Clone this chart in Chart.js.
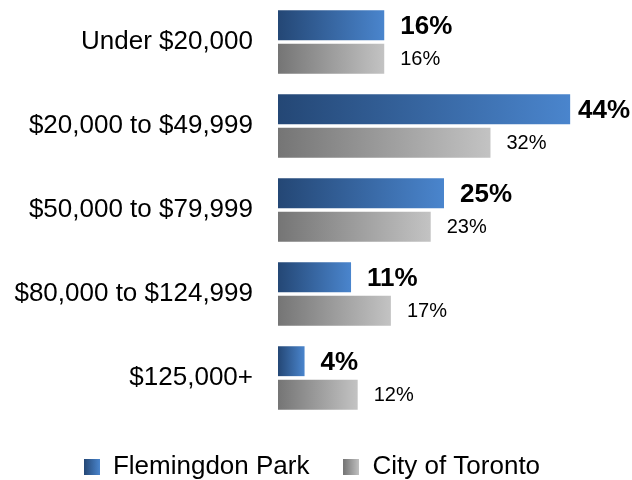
<!DOCTYPE html>
<html>
<head>
<meta charset="utf-8">
<script src="https://cdn.jsdelivr.net/npm/chart.js@4/dist/chart.umd.min.js"></script>
<style>
  html, body { margin: 0; padding: 0; background: #fff; }
  #wrap { width: 632px; height: 480px; }
</style>
</head>
<body>
<div id="wrap"><canvas id="income-chart"></canvas></div>
<script>
Chart.defaults.font.family = "'Liberation Sans', Arial, sans-serif";
Chart.defaults.color = '#000';

const incomeLabels = [
  'Under $20,000',
  '$20,000 to $49,999',
  '$50,000 to $79,999',
  '$80,000 to $124,999',
  '$125,000+'
];
const flemingdonValues = [16, 44, 25, 11, 4];
const torontoValues = [16, 32, 23, 17, 12];
const seriesNames = ['Flemingdon Park', 'City of Toronto'];

const blueStops = ['#244775', '#4a85cd'];
const grayStops = ['#757575', '#c3c3c3'];

// left -> right gradient along each bar
const barGradient = (stops) => (ctx) => {
  const chart = ctx.chart;
  const xScale = chart.scales.x;
  if (ctx.type !== 'data' || !xScale) return stops[1];
  const x0 = xScale.getPixelForValue(0);
  const x1 = xScale.getPixelForValue(ctx.raw);
  if (!isFinite(x0) || !isFinite(x1) || x1 - x0 < 1) return stops[0];
  const g = chart.ctx.createLinearGradient(x0, 0, x1, 0);
  g.addColorStop(0, stops[0]);
  g.addColorStop(1, stops[1]);
  return g;
};

// small gradient square used as legend marker
function legendSwatch(stops) {
  const c = document.createElement('canvas');
  c.width = 16;
  c.height = 16;
  const cx = c.getContext('2d');
  const g = cx.createLinearGradient(0, 0, 16, 0);
  g.addColorStop(0, stops[0]);
  g.addColorStop(1, stops[1]);
  cx.fillStyle = g;
  cx.fillRect(0, 0, 16, 16);
  return c;
}

// value labels at the end of each bar
const valueLabels = {
  id: 'valueLabels',
  afterDatasetsDraw(chart) {
    const ctx = chart.ctx;
    ctx.save();
    ctx.textBaseline = 'middle';
    ctx.textAlign = 'left';
    chart.data.datasets.forEach((ds, di) => {
      const meta = chart.getDatasetMeta(di);
      ctx.font = di === 0
        ? "bold 26px 'Liberation Sans', Arial, sans-serif"
        : "20px 'Liberation Sans', Arial, sans-serif";
      ctx.fillStyle = '#000';
      meta.data.forEach((bar, i) => {
        const txt = ds.data[i] + '%';
        const w = ctx.measureText(txt).width;
        const x = Math.min(bar.x + 16, chart.width - w - 2);
        ctx.fillText(txt, x, bar.y + (di === 0 ? 2 : 1));
      });
    });
    ctx.restore();
  }
};

const swatches = [legendSwatch(blueStops), legendSwatch(grayStops)];

const ctx = document.getElementById('income-chart').getContext('2d');
new Chart(ctx, {
  type: 'bar',
  data: {
    labels: incomeLabels,
    datasets: [
      {
        label: seriesNames[0],
        data: flemingdonValues,
        backgroundColor: barGradient(blueStops),
        categoryPercentage: 0.8,
        barPercentage: 0.89
      },
      {
        label: seriesNames[1],
        data: torontoValues,
        backgroundColor: barGradient(grayStops),
        categoryPercentage: 0.8,
        barPercentage: 0.89
      }
    ]
  },
  options: {
    indexAxis: 'y',
    responsive: true,
    maintainAspectRatio: false,
    animation: false,
    layout: { padding: { left: 14, right: 22, top: 0, bottom: -10 } },
    scales: {
      x: {
        display: false,
        min: 0,
        max: 50
      },
      y: {
        grid: { display: false, drawTicks: false },
        border: { display: false },
        ticks: {
          padding: 25,
          font: { size: 26 },
          color: '#000'
        },
        afterFit(scale) {
          scale.width = 264;
          scale.paddingTop = 0;
          scale.paddingBottom = 0;
        }
      }
    },
    plugins: {
      tooltip: { enabled: false },
      legend: {
        position: 'bottom',
        labels: {
          font: { size: 26 },
          color: '#000',
          usePointStyle: true,
          boxWidth: 16,
          boxHeight: 16,
          padding: 34,
          generateLabels(chart) {
            return chart.data.datasets.map((ds, i) => ({
              text: ds.label,
              pointStyle: swatches[i],
              fillStyle: blueStops[0],
              strokeStyle: 'transparent',
              lineWidth: 0,
              hidden: false,
              datasetIndex: i
            }));
          }
        }
      }
    }
  },
  plugins: [valueLabels]
});
</script>
</body>
</html>
